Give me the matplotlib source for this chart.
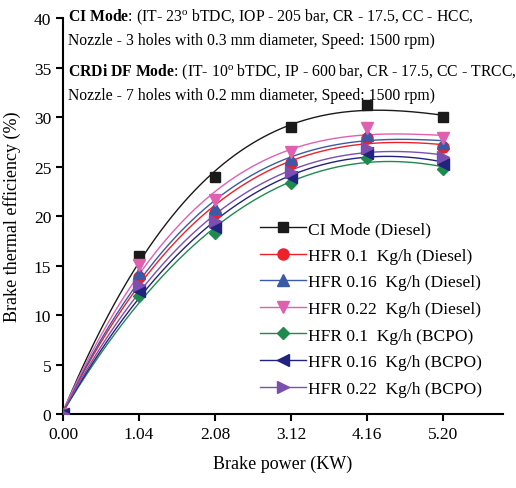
import numpy as np
import matplotlib
matplotlib.use("Agg")
import matplotlib.pyplot as plt

plt.rcParams['font.family'] = ['Liberation Serif', 'DejaVu Serif']
plt.rcParams['mathtext.fontset'] = 'custom'
plt.rcParams['mathtext.rm'] = 'Liberation Serif'
plt.rcParams['mathtext.bf'] = 'Liberation Serif:bold'
plt.rcParams['mathtext.it'] = 'Liberation Serif:italic'

power = [0.00, 1.04, 2.08, 3.12, 4.16, 5.20]
tick_labels = ["0.00", "1.04", "2.08", "3.12", "4.16", "5.20"]

ci_diesel = [0, 16.0, 24.0, 29.0, 31.2, 30.0]
hfr01_diesel = [0, 13.9, 20.3, 25.4, 27.9, 27.0]
hfr016_diesel = [0, 14.3, 20.8, 25.8, 28.2, 27.4]
hfr022_diesel = [0, 15.1, 21.6, 26.5, 28.9, 27.9]
hfr01_bcpo = [0, 11.9, 18.3, 23.3, 25.9, 24.8]
hfr016_bcpo = [0, 12.4, 18.9, 24.0, 26.4, 25.3]
hfr022_bcpo = [0, 13.0, 19.5, 24.5, 26.9, 26.0]

labels = ["CI Mode (Diesel)", "HFR 0.1  Kg/h (Diesel)", "HFR 0.16  Kg/h (Diesel)",
          "HFR 0.22  Kg/h (Diesel)", "HFR 0.1  Kg/h (BCPO)", "HFR 0.16  Kg/h (BCPO)",
          "HFR 0.22  Kg/h (BCPO)"]
series = [ci_diesel, hfr01_diesel, hfr016_diesel, hfr022_diesel, hfr01_bcpo, hfr016_bcpo, hfr022_bcpo]
colors = ["#1a1a1a", "#f0202a", "#3a5aa8", "#e060b0", "#1e8a4e", "#22237e", "#7b4fb0"]
markers = ["s", "o", "^", "v", "D", "<", ">"]
msizes = [7, 8, 8, 8, 6.5, 8, 8]

fig = plt.figure(figsize=(5.16, 4.89), dpi=100)
ax = fig.add_axes([0.122, 0.151, 0.853, 0.810])

x = np.array(power)
xf = np.linspace(0, 5.2, 200)
for vals, c in zip(series, colors):
    p = np.polyfit(x, np.array(vals), 3)
    ax.plot(xf, np.polyval(p, xf), color=c, lw=1.0, zorder=2)

handles = []
for vals, c, m, ms, lab in zip(series, colors, markers, msizes, labels):
    ax.plot(x, vals, linestyle='none', marker=m, color=c, ms=ms, zorder=3)
    h, = ax.plot([], [], color=c, marker=m, ms=ms, lw=1.0, label=lab)
    handles.append(h)

ax.set_xlim(0, 6.02)
ax.set_ylim(0, 40)
ax.set_xticks(power)
ax.set_xticklabels(tick_labels)
ax.set_yticks(range(0, 41, 5))
ax.spines['top'].set_visible(False)
ax.spines['right'].set_visible(False)
ax.spines['left'].set_linewidth(1.5)
ax.spines['bottom'].set_linewidth(1.5)
ax.tick_params(direction='out', length=5, width=1.5, labelsize=12.5)
ax.set_xlabel("Brake power (KW)", fontsize=13, labelpad=9)
ax.set_ylabel("Brake thermal efficiency (%)", fontsize=13, labelpad=9)

ax.legend(handles=handles, loc='upper left', bbox_to_anchor=(0.433, 0.505), frameon=False,
          fontsize=12.5, handlelength=2.6, labelspacing=0.6, borderaxespad=0, handletextpad=0.15)

fs = 11.35
ax.text(0.012, 1.005, r"$\mathbf{CI\ Mode}$: (IT- 23$^{\mathrm{o}}$ bTDC, IOP - 205 bar, CR - 17.5, CC - HCC,",
        transform=ax.transAxes, fontsize=fs, va='center', ha='left')
ax.text(0.012, 0.945, "Nozzle - 3 holes with 0.3 mm diameter, Speed: 1500 rpm)",
        transform=ax.transAxes, fontsize=fs, va='center', ha='left')
ax.text(0.012, 0.866, r"$\mathbf{CRDi\ DF\ Mode}$: (IT- 10$^{\mathrm{o}}$ bTDC, IP - 600 bar, CR - 17.5, CC - TRCC,",
        transform=ax.transAxes, fontsize=fs, va='center', ha='left')
ax.text(0.012, 0.806, "Nozzle - 7 holes with 0.2 mm diameter, Speed: 1500 rpm)",
        transform=ax.transAxes, fontsize=fs, va='center', ha='left')

fig.savefig("out.png", dpi=100)
